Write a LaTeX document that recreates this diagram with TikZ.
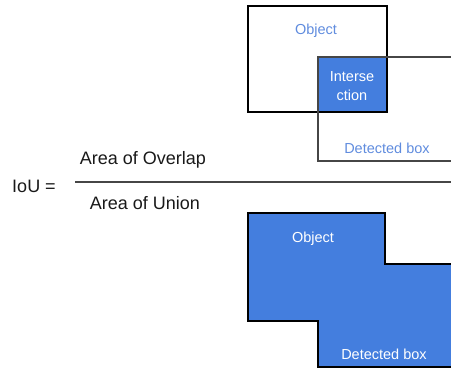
\documentclass[tikz,border=0pt]{standalone}
\usepackage{fontspec}
\setmainfont{Liberation Sans}
\definecolor{boxblue}{RGB}{68,126,222}
\definecolor{labelblue}{RGB}{96,140,222}
\definecolor{rulegray}{RGB}{70,70,70}
\begin{document}
\begin{tikzpicture}[x=1pt,y=-1pt,
  frame/.style={draw=black,line width=2.6pt},
  smalllabel/.style={font=\fontsize{14.5}{16}\selectfont,inner sep=0pt},
  biglabel/.style={font=\fontsize{18}{20}\selectfont,inner sep=0pt,text=black!90}]
\useasboundingbox (0,0) rectangle (451,370);

% Overlap: object and detected box with their intersection
\fill[boxblue] (318,57) rectangle (387,112);
\draw[frame] (248,6) rectangle (387,112);
\draw[draw=rulegray,line width=2.4pt] (452,57) -- (318,57) -- (318,161) -- (452,161);
\node[smalllabel,text=labelblue] (objtop) at (316,31) {Object};
\node[smalllabel,text=white,align=center,font=\fontsize{14.5}{19}\selectfont] (inter) at (352,86) {Interse\\ction};
\node[smalllabel,text=labelblue] (dettop) at (387,148) {Detected box};

% Fraction
\node[biglabel] (iou) at (34,186) {IoU =};
\node[biglabel] (num) at (143,160) {Area of Overlap};
\node[biglabel] (den) at (145,203) {Area of Union};
\coordinate (barL) at (75,182);
\coordinate (barR) at (451,182);
\draw[rulegray,line width=2pt] (barL) -- (barR);

% Union: merged outline of both boxes
\fill[boxblue] (248,213) -- (385,213) -- (385,264) -- (452,264) -- (452,367) -- (318,367) -- (318,321) -- (248,321) -- cycle;
\draw[frame] (452,264) -- (385,264) -- (385,213) -- (248,213) -- (248,321) -- (318,321) -- (318,367) -- (452,367);
\node[smalllabel,text=white] (objbot) at (313,239) {Object};
\node[smalllabel,text=white] (detbot) at (384,354) {Detected box};
\end{tikzpicture}
\end{document}
